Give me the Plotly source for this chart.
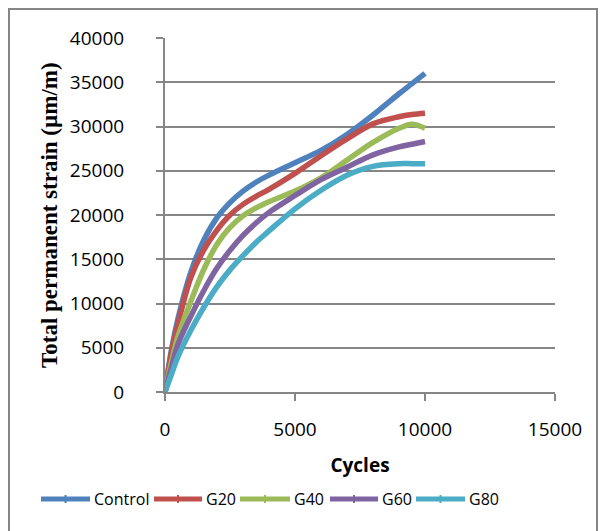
import plotly.graph_objects as go

cycles = [0, 250, 500, 1000, 1500, 2000, 2500, 3000, 3500, 4000, 5000, 6000, 7000, 8000, 9000, 9500, 10000]
control = [0, 4800, 8300, 13600, 17200, 19700, 21400, 22700, 23700, 24500, 25900, 27300, 29100, 31300, 33700, 34850, 36000]
g20 = [0, 4500, 7700, 13000, 16100, 18300, 20000, 21200, 22100, 22900, 24700, 26700, 28600, 30300, 31100, 31350, 31500]
g40 = [0, 3400, 6300, 10300, 13900, 16700, 18600, 19900, 20800, 21500, 22700, 24200, 26200, 28200, 29800, 30250, 29800]
g60 = [0, 2800, 5400, 8600, 11500, 14000, 16000, 17700, 19100, 20300, 22200, 24000, 25400, 26800, 27700, 28000, 28300]
g80 = [0, 2000, 4000, 7000, 9600, 11900, 13800, 15400, 16900, 18200, 20700, 22800, 24500, 25500, 25800, 25800, 25800]

series_names = ["Control", "G20", "G40", "G60", "G80"]
series_values = [control, g20, g40, g60, g80]
colors = ["#4F81BD", "#C0504D", "#9BBB59", "#8064A2", "#4BACC6"]

x_ticks = [0, 5000, 10000, 15000]
y_ticks = [0, 5000, 10000, 15000, 20000, 25000, 30000, 35000, 40000]

fig = go.Figure()
for name, vals, col in zip(series_names, series_values, colors):
    fig.add_trace(go.Scatter(
        x=cycles, y=vals, name=name, mode="lines", showlegend=False,
        line=dict(color=col, width=5.5, shape="spline", smoothing=1.0),
    ))

grid = "#868686"
sans = "Open Sans, Arial, sans-serif"
tickfont = dict(family=sans, size=19, color="#000000")

L, R, T, B = 165, 48, 38, 139
W, H = 603, 531
pw = W - L - R
ph = H - T - B


def px_x(p):
    return (p - L) / pw


def px_y(p):
    return (T + ph - p) / ph


# custom legend (line sample + label), laid out in pixel positions
leg_y = 499
leg_line_x = [(41, 90), (154, 202), (240, 290), (330, 378), (416, 465)]
shapes = [dict(
    type="rect", xref="paper", yref="paper",
    x0=px_x(9), x1=px_x(597), y0=px_y(545), y1=px_y(9),
    line=dict(color=grid, width=2), fillcolor="rgba(0,0,0,0)", layer="below",
)]
annotations = [dict(
    text="<b>Total permanent strain (µm/m)</b>", textangle=-90,
    x=px_x(49), y=0.5, xref="paper", yref="paper",
    xanchor="center", yanchor="middle", showarrow=False,
    font=dict(family="Liberation Serif, Times New Roman, serif", size=23, color="#000000"),
)]
for name, col, (x0, x1) in zip(series_names, colors, leg_line_x):
    shapes.append(dict(type="line", xref="paper", yref="paper",
                       x0=px_x(x0), x1=px_x(x1), y0=px_y(leg_y), y1=px_y(leg_y),
                       line=dict(color=col, width=5)))
    xm = (x0 + x1) / 2
    shapes.append(dict(type="line", xref="paper", yref="paper",
                       x0=px_x(xm), x1=px_x(xm), y0=px_y(leg_y - 4), y1=px_y(leg_y + 4),
                       line=dict(color=col, width=2)))
    annotations.append(dict(text=name, x=px_x(x1 + 2), y=px_y(leg_y), xref="paper", yref="paper",
                            xanchor="left", yanchor="middle", showarrow=False,
                            font=dict(family=sans, size=16, color="#000000")))

fig.update_layout(
    width=W, height=H,
    margin=dict(l=L, r=R, t=T, b=B, pad=0, autoexpand=False),
    paper_bgcolor="white", plot_bgcolor="white",
    showlegend=False,
    xaxis=dict(
        range=[0, 15000], tickvals=x_ticks, ticktext=[str(v) for v in x_ticks],
        showgrid=False, zeroline=False, automargin=False,
        showline=True, linecolor=grid, linewidth=2,
        ticks="outside", ticklen=7, tickwidth=2, tickcolor=grid,
        tickfont=tickfont, ticklabelstandoff=12,
        title=dict(text="<b>Cycles</b>", font=dict(family=sans, size=19, color="#000000"), standoff=18),
    ),
    yaxis=dict(
        range=[0, 40000], tickvals=y_ticks, ticktext=[str(v) for v in y_ticks],
        showgrid=True, gridcolor=grid, gridwidth=2, zeroline=False, automargin=False,
        showline=True, linecolor=grid, linewidth=2,
        ticks="outside", ticklen=7, tickwidth=2, tickcolor=grid,
        tickfont=tickfont, ticklabelstandoff=28,
    ),
    annotations=annotations,
    shapes=shapes,
)

fig.write_html("out.html", config={"displayModeBar": False},
               post_script="document.body.style.margin='0';")
